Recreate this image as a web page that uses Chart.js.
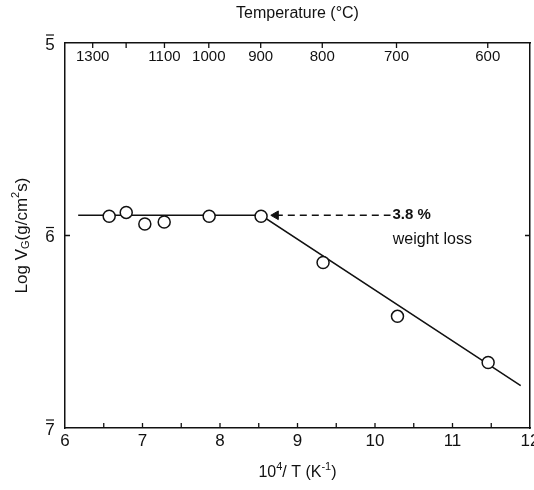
<!DOCTYPE html>
<html lang="en">
<head>
<meta charset="UTF-8" />
<title>Log VG vs 10^4/T</title>
<script src="https://cdn.jsdelivr.net/npm/chart.js"></script>
<style>
  body { margin: 0; background: #fff; }
  #wrap { width: 534px; height: 490px; }
</style>
</head>
<body>
<div id="wrap"><canvas id="chart" width="534" height="490"></canvas></div>
<script>
// measured points (10^4/T, log VG)
const invT = [6.57, 6.79, 7.03, 7.28, 7.86, 8.53, 9.33, 10.29, 11.46];
const logV = [-5.90, -5.88, -5.94, -5.93, -5.90, -5.90, -6.14, -6.42, -6.66];
// hand drawn fit line
const fitX = [6.17, 8.53, 11.88];
const fitY = [-5.895, -5.895, -6.78];
// dashed arrow pointing at the knee
const arrowX = [8.72, 10.2];
const arrowY = [-5.895, -5.895];
// axis ticks
const bottomLabels = [6, 7, 8, 9, 10, 11, 12];
const bottomMinor = [6.5, 7, 7.5, 8, 8.5, 9, 9.5, 10, 10.5, 11, 11.5];
const yTicks = [-5, -6, -7];
const yTickText = ['5', '6', '7'];   // drawn with a bar on top (negative characteristic)
const tempTicks = [1300, 1200, 1100, 1000, 900, 800, 700, 600];
const tempLabels = [1300, 1100, 1000, 900, 800, 700, 600];

const FONT = "'Liberation Sans', 'DejaVu Sans', sans-serif";
const toXY = (xs, ys) => xs.map((x, i) => ({x: x, y: ys[i]}));
const invOfC = c => 1e4 / (c + 273);

// text with sub/superscripts, centred on (0,0)
function richText(ctx, parts) {
  let total = 0;
  parts.forEach(p => { ctx.font = p.s + 'px ' + FONT; p.w = ctx.measureText(p.t).width; total += p.w; });
  ctx.textAlign = 'left';
  ctx.textBaseline = 'middle';
  let cx = -total / 2;
  parts.forEach(p => {
    ctx.font = p.s + 'px ' + FONT;
    ctx.fillText(p.t, cx, p.dy);
    cx += p.w;
  });
}

const decor = {
  id: 'decor',
  afterDraw(chart) {
    const ctx = chart.ctx;
    const a = chart.chartArea;
    const sx = chart.scales.x, sx2 = chart.scales.x2, sy = chart.scales.y;
    ctx.save();
    ctx.strokeStyle = '#111';
    ctx.fillStyle = '#111';
    ctx.lineWidth = 1.3;
    ctx.beginPath();
    // inward ticks, bottom
    bottomMinor.forEach(v => {
      const px = sx.getPixelForValue(v);
      ctx.moveTo(px, a.bottom); ctx.lineTo(px, a.bottom - 5);
    });
    // inward ticks, top (temperature)
    tempTicks.forEach(t => {
      const px = sx2.getPixelForValue(invOfC(t));
      ctx.moveTo(px, a.top); ctx.lineTo(px, a.top + 5);
    });
    // side ticks at -6
    const py6 = sy.getPixelForValue(-6);
    ctx.moveTo(a.left, py6); ctx.lineTo(a.left + 5, py6);
    ctx.moveTo(a.right, py6); ctx.lineTo(a.right - 5, py6);
    ctx.stroke();

    // bottom tick labels
    ctx.font = '17px ' + FONT;
    ctx.textAlign = 'center';
    ctx.textBaseline = 'middle';
    bottomLabels.forEach(v => {
      ctx.fillText(String(v), sx.getPixelForValue(v), a.bottom + 13);
    });

    // y tick labels with bar
    ctx.lineWidth = 1.2;
    yTicks.forEach((v, i) => {
      const py = sy.getPixelForValue(v);
      const cx = a.left - 15;
      ctx.fillText(yTickText[i], cx, py + 2);
      ctx.beginPath();
      ctx.moveTo(cx - 4, py - 8); ctx.lineTo(cx + 4, py - 8);
      ctx.stroke();
    });

    // temperature labels inside the frame
    ctx.font = '15px ' + FONT;
    tempLabels.forEach(t => {
      const px = sx2.getPixelForValue(invOfC(t));
      ctx.fillText(String(t), px, a.top + 14);
    });

    // annotation
    ctx.font = 'bold 15px ' + FONT;
    ctx.textAlign = 'left';
    ctx.fillText('3.8 %', sx.getPixelForValue(10.2) + 2, sy.getPixelForValue(-5.895));
    ctx.font = '16px ' + FONT;
    ctx.textAlign = 'center';
    ctx.fillText('weight loss', sx.getPixelForValue(10.74), sy.getPixelForValue(-6.02));

    // bottom title
    ctx.save();
    ctx.translate((a.left + a.right) / 2, 473);
    richText(ctx, [
      {t: '10', s: 16, dy: 0},
      {t: '4', s: 11, dy: -6},
      {t: '/ T (K', s: 16, dy: 0},
      {t: '-1', s: 11, dy: -6},
      {t: ')', s: 16, dy: 0}
    ]);
    ctx.restore();

    // y title
    ctx.translate(22, (a.top + a.bottom) / 2);
    ctx.rotate(-Math.PI / 2);
    richText(ctx, [
      {t: 'Log V', s: 17, dy: 0},
      {t: 'G', s: 11, dy: 4},
      {t: '(g/cm', s: 17, dy: 0},
      {t: '2', s: 11, dy: -6},
      {t: 's)', s: 17, dy: 0}
    ]);
    ctx.restore();
  }
};

new Chart(document.getElementById('chart'), {
  type: 'scatter',
  data: {
    datasets: [
      {
        label: 'data',
        data: toXY(invT, logV),
        pointRadius: 6,
        pointBorderWidth: 1.5,
        pointBorderColor: '#111',
        pointBackgroundColor: '#fff',
        showLine: false
      },
      {
        label: 'arrowhead',
        data: [{x: arrowX[0], y: arrowY[0]}],
        pointStyle: 'triangle',
        pointRotation: 270,
        pointRadius: 5,
        pointBorderColor: '#111',
        pointBackgroundColor: '#111',
        showLine: false
      },
      {
        label: 'arrow',
        data: toXY(arrowX, arrowY),
        showLine: true,
        borderColor: '#111',
        borderWidth: 1.5,
        borderDash: [7, 5],
        pointRadius: 0
      },
      {
        label: 'fit',
        data: toXY(fitX, fitY),
        showLine: true,
        borderColor: '#111',
        borderWidth: 1.5,
        pointRadius: 0
      }
    ]
  },
  options: {
    responsive: false,
    animation: false,
    layout: { padding: 0, autoPadding: false },
    plugins: { legend: { display: false }, tooltip: { enabled: false } },
    scales: {
      x: {
        type: 'linear', position: 'bottom', min: 6, max: 12,
        ticks: { display: false },
        grid: { display: false, drawTicks: false },
        border: { color: '#111', width: 1.5 },
        afterFit(s) { s.height = 62; }
      },
      x2: {
        type: 'linear', position: 'top', min: 6, max: 12,
        ticks: { display: false },
        grid: { display: false, drawTicks: false },
        border: { color: '#111', width: 1.5 },
        title: { display: true, text: 'Temperature (\u00B0C)', color: '#111', font: { family: FONT, size: 16 }, padding: { top: 4, bottom: 0 } },
        afterFit(s) { s.height = 43; }
      },
      y: {
        type: 'linear', position: 'left', min: -7, max: -5,
        ticks: { display: false },
        grid: { display: false, drawTicks: false },
        border: { color: '#111', width: 1.5 },
        afterFit(s) { s.width = 65; }
      },
      y2: {
        type: 'linear', position: 'right', min: -7, max: -5,
        ticks: { display: false },
        grid: { display: false, drawTicks: false },
        border: { color: '#111', width: 1.5 },
        afterFit(s) { s.width = 4; }
      }
    }
  },
  plugins: [decor]
});
</script>
</body>
</html>
